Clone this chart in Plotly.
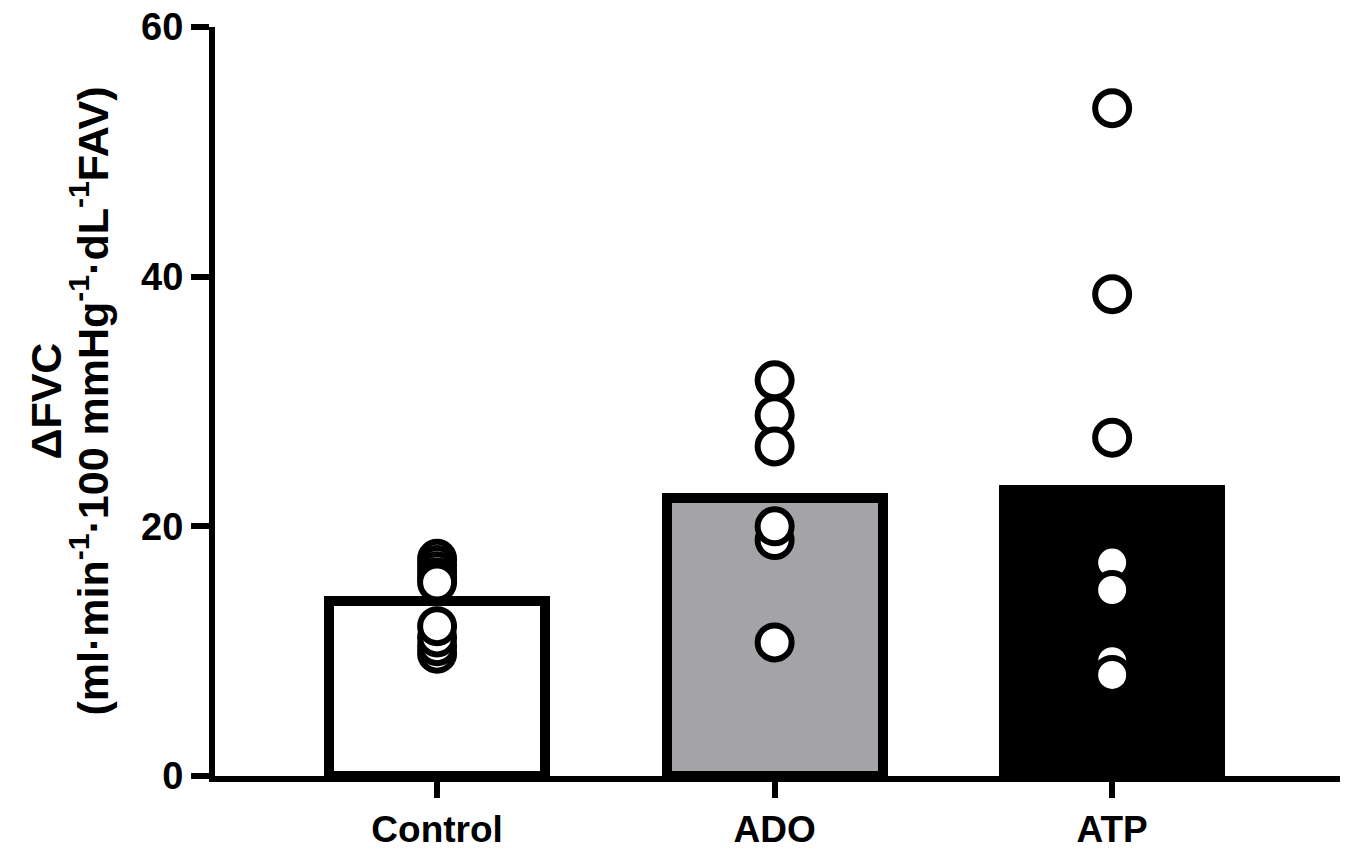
import plotly.graph_objects as go

categories = ["Control", "ADO", "ATP"]
bar_means = [14.0, 22.3, 22.9]
bar_colors = ["#ffffff", "#a4a3a8", "#000000"]

control_pts = [17.4, 16.9, 16.4, 15.9, 15.5, 9.8, 10.4, 11.1, 12.0]
ado_pts = [31.7, 28.9, 26.4, 18.9, 20.0, 10.7]
atp_pts = [53.5, 38.6, 27.1, 17.1, 14.9, 9.2, 8.1]

y_ticks = [0, 20, 40, 60]
y_title_1 = "ΔFVC"
y_title_2 = "(ml·min<sup>-1</sup>·100 mmHg<sup>-1</sup>·dL<sup>-1</sup>FAV)"

FONT = "Liberation Sans, Arial, Helvetica, sans-serif"

fig = go.Figure()
fig.add_trace(go.Bar(
    x=categories, y=bar_means, width=0.64,
    marker=dict(color=bar_colors, line=dict(color="black", width=10)),
    showlegend=False,
))

for cat, pts in zip(categories, [control_pts, ado_pts, atp_pts]):
    fig.add_trace(go.Scatter(
        x=[cat] * len(pts), y=pts, mode="markers",
        marker=dict(symbol="circle", size=34, color="white",
                    line=dict(color="black", width=6)),
        showlegend=False, cliponaxis=False,
    ))

for txt, xpix in [(y_title_1, 45), (y_title_2, 89)]:
    fig.add_annotation(
        text=txt, xref="paper", yref="paper",
        x=(xpix - 215) / 1125, y=0.5,
        xanchor="center", yanchor="middle", textangle=-90, showarrow=False,
        font=dict(family=FONT, size=43, color="black", weight="bold"),
    )

fig.update_layout(
    template="none",
    width=1350, height=852,
    margin=dict(l=215, r=10, t=27, b=76, autoexpand=False),
    paper_bgcolor="white", plot_bgcolor="white",
    bargap=0,
    xaxis=dict(
        type="category", categoryorder="array", categoryarray=categories,
        range=[-0.658, 2.675], automargin=False,
        showline=True, linecolor="black", linewidth=6,
        ticks="outside", ticklen=16, tickwidth=6, tickcolor="black",
        tickfont=dict(family=FONT, size=37, color="black", weight="bold"),
        showgrid=False, zeroline=False,
    ),
    yaxis=dict(
        range=[0, 60], tickvals=y_ticks, automargin=False,
        ticklabeloverflow="allow",
        showline=True, linecolor="black", linewidth=6,
        ticks="outside", ticklen=18, tickwidth=6, tickcolor="black",
        tickfont=dict(family=FONT, size=38, color="black", weight="bold"),
        showgrid=False, zeroline=False,
    ),
)

fig.write_html("out.html", config={"displayModeBar": False},
               post_script="document.body.style.margin='0';")
